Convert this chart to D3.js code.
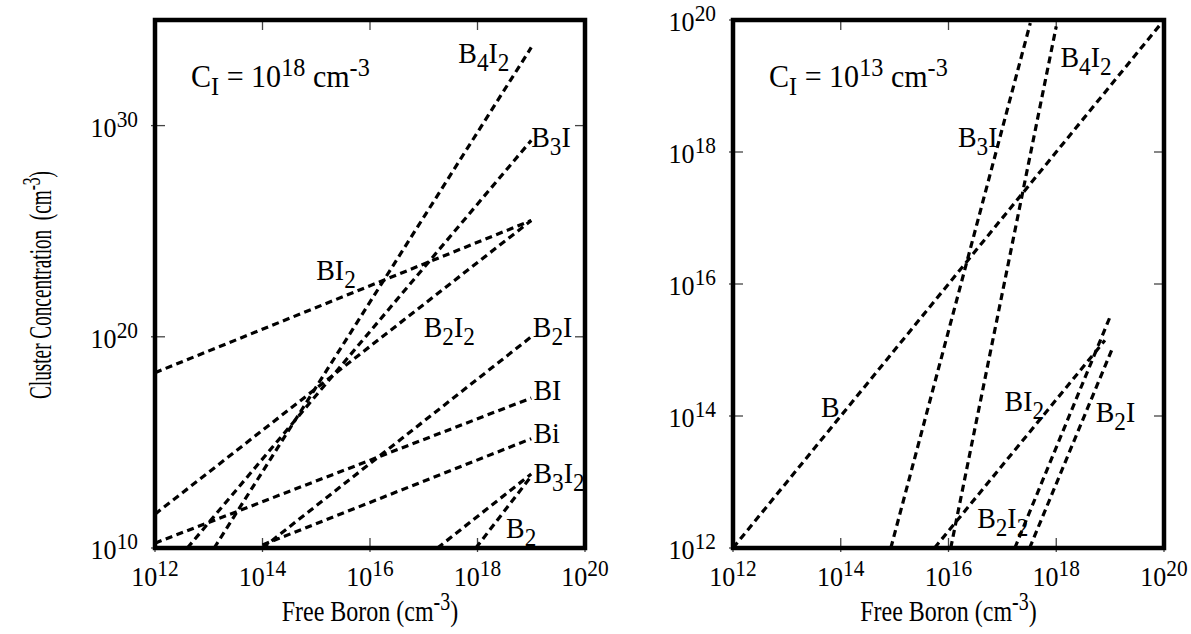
<!DOCTYPE html>
<html>
<head>
<meta charset="utf-8">
<script src="https://cdn.jsdelivr.net/npm/d3@7"></script>
<style>
body { margin: 0; background: #fff; }
svg text { font-family: "Liberation Serif", "Times New Roman", serif; fill: #000; white-space: pre; }
</style>
</head>
<body>
<svg id="chart" width="1191" height="634"></svg>
<script>
// ---- data ----
var xTicks = [1e12, 1e14, 1e16, 1e18, 1e20];

// left panel: C_I = 1e18 cm^-3
var leftNames = ["B_4I_2", "B_3I", "BI_2", "B_2I_2", "B_2I", "BI", "Bi", "B_3I_2", "B_2"];
var leftFrom  = [[1.26e13, 1e10], [4e12, 1e10], [1e12, 2e18], [1e12, 4e11], [1e14, 1e10],
                 [1e12, 1.7e10], [1e14, 1.4e10], [9.3e17, 1e10], [1.8e17, 1e10]];
var leftTo    = [[1e19, 5e33], [1e19, 2e29], [1e19, 3.2e25], [1e19, 3.2e25], [1e19, 1e20],
                 [1e19, 1.26e17], [1e19, 1.5e15], [1e19, 2.5e13], [1e19, 3.2e13]];
var leftLabelAt = [[4.4e17, 9e32], [1e19, 1e29], [1e15, 5e22], [1e17, 1e20], [1.07e19, 1e20],
                   [1.1e19, 1e17], [1.1e19, 9.3e14], [1.1e19, 1.2e13], [3.4e18, 3e10]];
var leftYTicks = [1e10, 1e20, 1e30];

// right panel: C_I = 1e13 cm^-3
var rightNames = ["B", "B_3I", "B_4I_2", "BI_2", "B_2I_2", "B_2I"];
var rightFrom  = [[1e12, 1e12], [8.5e14, 1e12], [1.1e16, 1e12], [5.5e15, 1e12], [1.7e17, 1e12], [3.2e17, 1e12]];
var rightTo    = [[1e20, 1e20], [3.3e17, 9e19], [1e18, 8e19], [8e18, 1.4e15], [1e19, 3.2e15], [1.07e19, 1e15]];
var rightLabelAt = [[4.3e13, 9.5e13], [1.5e16, 1.2e18], [1.2e18, 1.95e19], [1.1e17, 1.2e14], [3.4e16, 2e12], [5.4e18, 8e13]];
var rightYTicks = [1e12, 1e14, 1e16, 1e18, 1e20];

var svg = d3.select("#chart");
var SX = 0.93;   // glyphs in the figure are a bit narrow

// text with ^sup and _sub runs
function rich(parent, str, size) {
    var t = parent.append("text").attr("font-size", size);
    var re = /([_^])(-?\d+|[A-Za-z])/g, last = 0, m, shift = 0;
    function add(s, kind) {
        if (!s) return;
        var target = kind === "^" ? -Math.round(size * 0.36) : kind === "_" ? Math.round(size * 0.27) : 0;
        var ts = t.append("tspan").attr("dy", target - shift).text(s);
        if (kind) ts.attr("font-size", Math.round(size * 0.82));
        shift = target;
    }
    while ((m = re.exec(str))) {
        add(str.slice(last, m.index), null);
        add(m[2], m[1]);
        last = re.lastIndex;
    }
    add(str.slice(last), null);
    return t;
}

function label(x, y, str, size, anchor, rot, sx) {
    var g = svg.append("g")
        .attr("transform", "translate(" + x + "," + y + ")" + (rot ? " rotate(" + rot + ")" : "") +
              " scale(" + (sx || SX) + ",1)");
    rich(g, str, size).attr("text-anchor", anchor || "start");
}

function panel(id, box, yDomain, yTicks, names, from, to, labelAt, note) {
    var x = d3.scaleLog().domain([1e12, 1e20]).range([box.x0, box.x1]);
    var y = d3.scaleLog().domain(yDomain).range([box.y1, box.y0]);

    svg.append("clipPath").attr("id", id)
      .append("rect")
        .attr("x", box.x0).attr("y", box.y0)
        .attr("width", box.x1 - box.x0).attr("height", box.y1 - box.y0);

    // ticks, inside the frame, poking out a little
    var tk = svg.append("g").attr("stroke", "#444").attr("stroke-width", 1.3);
    xTicks.forEach(function(v) {
        tk.append("line").attr("x1", x(v)).attr("x2", x(v)).attr("y1", box.y1 + 4).attr("y2", box.y1 - 10);
        tk.append("line").attr("x1", x(v)).attr("x2", x(v)).attr("y1", box.y0 - 2).attr("y2", box.y0 + 10);
        label(x(v), box.y1 + 38, "10^" + Math.round(Math.log10(v)), 28, "middle");
    });
    yTicks.forEach(function(v) {
        tk.append("line").attr("x1", box.x0 - 4).attr("x2", box.x0 + 10).attr("y1", y(v)).attr("y2", y(v));
        tk.append("line").attr("x1", box.x1 - 10).attr("x2", box.x1 + 2).attr("y1", y(v)).attr("y2", y(v));
        label(box.x0 - 17, y(v) + 11, "10^" + Math.round(Math.log10(v)), 28, "end");
    });

    var line = d3.line().x(function(d) { return x(d[0]); }).y(function(d) { return y(d[1]); });
    svg.append("g")
        .attr("clip-path", "url(#" + id + ")")
      .selectAll("path")
      .data(names.map(function(n, i) { return [from[i], to[i]]; }))
      .enter().append("path")
        .attr("d", line)
        .attr("fill", "none")
        .attr("stroke", "#000")
        .attr("stroke-width", 3.2)
        .attr("stroke-dasharray", "7,4.5");

    names.forEach(function(n, i) {
        label(x(labelAt[i][0]), y(labelAt[i][1]), n, 30);
    });

    svg.append("rect")
        .attr("x", box.x0).attr("y", box.y0)
        .attr("width", box.x1 - box.x0).attr("height", box.y1 - box.y0)
        .attr("fill", "none").attr("stroke", "#000").attr("stroke-width", 4.5);

    label(box.x0 + 36, box.y0 + 67, note, 31, "start", 0, 0.97);
    label((box.x0 + box.x1) / 2, 621, "Free Boron (cm^-3)", 30, "middle", 0, 0.8);
}

panel("clipL", {x0: 155, x1: 585, y0: 20, y1: 548}, [1e10, 1e35], leftYTicks,
      leftNames, leftFrom, leftTo, leftLabelAt, "C_I = 10^18 cm^-3");
panel("clipR", {x0: 733, x1: 1164, y0: 20, y1: 548}, [1e12, 1e20], rightYTicks,
      rightNames, rightFrom, rightTo, rightLabelAt, "C_I = 10^13 cm^-3");

label(51, 285, "Cluster Concentration  (cm^-3)", 31, "middle", -90, 0.62);
</script>
</body>
</html>
